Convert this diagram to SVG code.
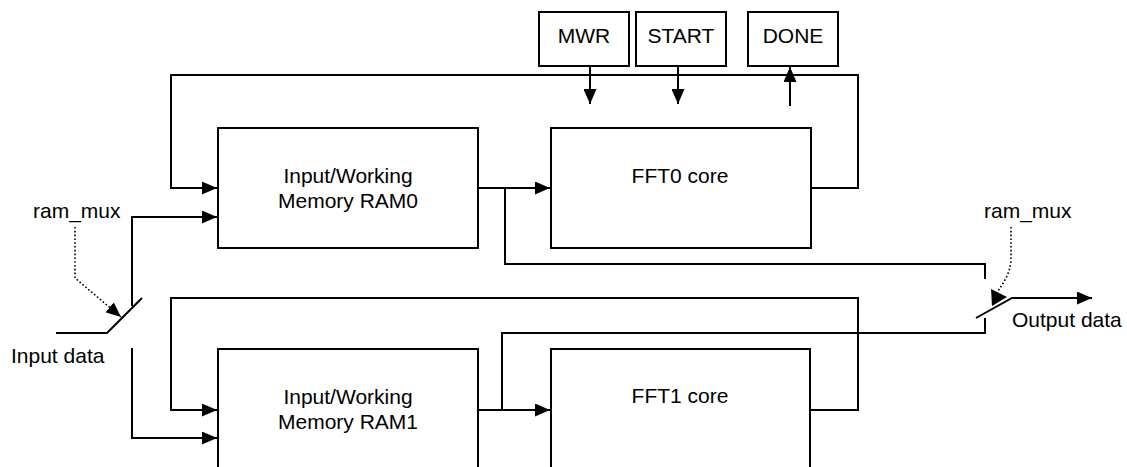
<svg xmlns="http://www.w3.org/2000/svg" width="1127" height="467" viewBox="0 0 1127 467">
  <style>
    .box { fill: #ffffff; stroke: #000000; stroke-width: 2; }
    .wire { fill: none; stroke: #000000; stroke-width: 2; stroke-linejoin: miter; }
    .dots { fill: none; stroke: #000000; stroke-width: 1.6; stroke-dasharray: 1.6 2.2; }
    .lbl { font-family: "Liberation Sans", Arial, sans-serif; font-size: 21px; fill: #000000; }
    .mid { text-anchor: middle; }
  </style>
  <defs>
    <marker id="arrow" viewBox="0 0 15 13" refX="15" refY="6.5" markerWidth="15" markerHeight="13" markerUnits="userSpaceOnUse" orient="auto">
      <path d="M0,0 L15,6.5 L0,13 Z" fill="#000000"/>
    </marker>
  </defs>
  <rect width="1127" height="467" fill="#ffffff"/>

  <!-- connectors -->
  <g id="connectors">
    <!-- FFT0 feedback loop into RAM0 -->
    <path class="wire" d="M811,188 H858 V75 H171 V188 H217" marker-end="url(#arrow)"/>
    <!-- RAM0 to FFT0 -->
    <path class="wire" d="M478,188 H550" marker-end="url(#arrow)"/>
    <!-- RAM0 to output mux -->
    <path class="wire" d="M505,188 V264 H985 V279"/>
    <!-- FFT1 feedback loop into RAM1 -->
    <path class="wire" d="M810,410 H858 V298 H171 V410 H217" marker-end="url(#arrow)"/>
    <!-- RAM1 to FFT1 -->
    <path class="wire" d="M478,410 H550" marker-end="url(#arrow)"/>
    <!-- RAM1 to output mux -->
    <path class="wire" d="M502,410 V333 H985 V318"/>
    <!-- input switch -->
    <path class="wire" d="M56,333 H107 L142,298"/>
    <path class="wire" d="M132,306 V217 H217" marker-end="url(#arrow)"/>
    <path class="wire" d="M132,348 V438 H217" marker-end="url(#arrow)"/>
    <!-- output switch -->
    <path class="wire" d="M976,318 L1012,298 H1092" marker-end="url(#arrow)"/>
    <!-- control signals -->
    <path class="wire" d="M590,66 V104" marker-end="url(#arrow)"/>
    <path class="wire" d="M678,66 V104" marker-end="url(#arrow)"/>
    <path class="wire" d="M790,106 V67" marker-end="url(#arrow)"/>
    <!-- ram_mux select lines -->
    <path class="dots" d="M75,227 V278 L121,317" marker-end="url(#arrow)"/>
    <path class="dots" d="M1011,227 V258 C1011,272 1004,282 998,291"/>
    <polygon points="991,289 992,306 1007,297" fill="#000000"/>
  </g>

  <g id="mwr">
    <rect class="box" x="539" y="12" width="90" height="54"/>
    <text class="lbl mid" x="584" y="43">MWR</text>
  </g>
  <g id="start">
    <rect class="box" x="636" y="12" width="90" height="54"/>
    <text class="lbl mid" x="681" y="43">START</text>
  </g>
  <g id="done">
    <rect class="box" x="748" y="12" width="90" height="54"/>
    <text class="lbl mid" x="793" y="43">DONE</text>
  </g>

  <g id="ram0">
    <rect class="box" x="218" y="128" width="260" height="120"/>
    <text class="lbl mid" x="348" y="183">Input/Working</text>
    <text class="lbl mid" x="348" y="208">Memory RAM0</text>
  </g>
  <g id="fft0">
    <rect class="box" x="551" y="128" width="260" height="120"/>
    <text class="lbl mid" x="680" y="183">FFT0 core</text>
  </g>
  <g id="ram1">
    <rect class="box" x="218" y="349" width="260" height="130"/>
    <text class="lbl mid" x="348" y="404">Input/Working</text>
    <text class="lbl mid" x="348" y="429">Memory RAM1</text>
  </g>
  <g id="fft1">
    <rect class="box" x="551" y="349" width="259" height="130"/>
    <text class="lbl mid" x="680" y="403">FFT1 core</text>
  </g>

  <g id="labels">
    <text class="lbl" x="33" y="218">ram_mux</text>
    <text class="lbl" x="984" y="218">ram_mux</text>
    <text class="lbl" x="11" y="363">Input data</text>
    <text class="lbl" x="1012" y="327">Output data</text>
  </g>
</svg>
